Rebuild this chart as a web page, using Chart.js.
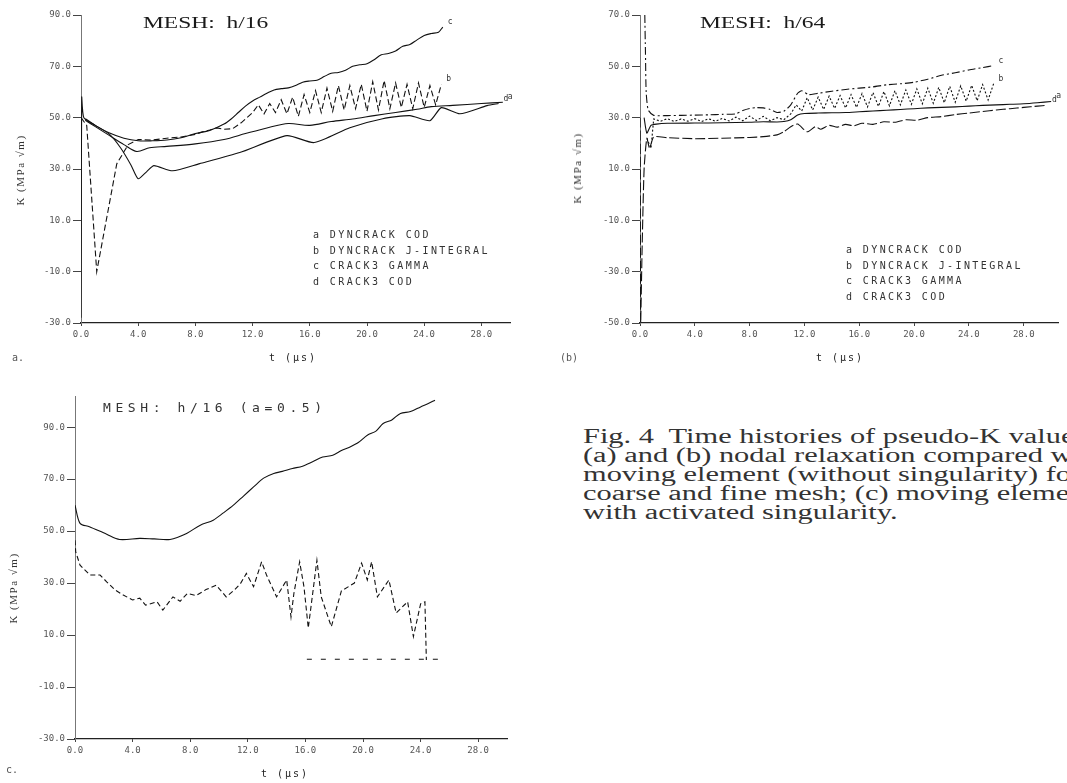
<!DOCTYPE html>
<html>
<head>
<meta charset="utf-8">
<script src="https://cdn.jsdelivr.net/npm/chart.js"></script>
<style>
body { margin: 0; background: #fff; width: 1067px; height: 783px; overflow: hidden; position: relative; }
canvas { position: absolute; }
.t { position: absolute; white-space: nowrap; color: #1a1a1a; transform-origin: 0 50%; line-height: 1; }
.serif { font-family: "Liberation Serif", "DejaVu Serif", serif; }
.mono { font-family: "DejaVu Sans Mono", monospace; }
.leg { font-family: "DejaVu Sans Mono", monospace; font-size: 10px; letter-spacing: 2.4px; color: #333; line-height: 15.5px; position: absolute; white-space: pre; }
.ytitle { position: absolute; white-space: nowrap; font-family: "Liberation Serif", serif; font-size: 11px; color: #333; transform: translate(-50%, -50%) rotate(-90deg); letter-spacing: 1.5px; }
.xtitle { position: absolute; white-space: nowrap; font-family: "DejaVu Sans Mono", monospace; font-size: 10px; color: #222; transform: translate(-50%, -50%); letter-spacing: 2px; }
#caption { position: absolute; left: 583px; top: 427px; font-family: "Liberation Serif", serif; font-size: 20px; line-height: 19px; color: #333; transform: scaleX(1.52); transform-origin: 0 0; white-space: pre; }
</style>
</head>
<body>

<canvas id="chartA" width="530" height="380" style="left:0;top:0"></canvas>
<canvas id="chartB" width="537" height="380" style="left:530px;top:0"></canvas>
<canvas id="chartC" width="530" height="403" style="left:0;top:380px"></canvas>

<div class="t serif" style="left:143px;top:22px;font-size:17px;transform:translateY(-50%) scaleX(1.38)">MESH:&nbsp;&nbsp;h/16</div>
<div class="t serif" style="left:700px;top:22px;font-size:17px;transform:translateY(-50%) scaleX(1.38)">MESH:&nbsp;&nbsp;h/64</div>
<div class="t mono" style="left:103px;top:407px;font-size:13px;letter-spacing:4.6px;color:#333;transform:translateY(-50%)">MESH: h/16 (a=0.5)</div>

<div class="leg" style="left:313px;top:227px">a DYNCRACK COD
b DYNCRACK J-INTEGRAL
c CRACK3 GAMMA
d CRACK3 COD</div>
<div class="leg" style="left:846px;top:242px">a DYNCRACK COD
b DYNCRACK J-INTEGRAL
c CRACK3 GAMMA
d CRACK3 COD</div>

<div class="ytitle" style="left:20px;top:170px">K (MPa √m)</div>
<div class="ytitle" style="left:577px;top:168px">K (MPa √m)</div>
<div class="ytitle" style="left:13px;top:588px">K (MPa √m)</div>

<div class="xtitle" style="left:293px;top:357px">t (μs)</div>
<div class="xtitle" style="left:840px;top:357px">t (μs)</div>
<div class="xtitle" style="left:285px;top:773px">t (μs)</div>

<div class="t mono" style="left:12px;top:358px;font-size:10px;color:#555;transform:translateY(-50%)">a.</div>
<div class="t mono" style="left:560px;top:358px;font-size:10px;color:#555;transform:translateY(-50%)">(b)</div>
<div class="t mono" style="left:6px;top:770px;font-size:10px;color:#555;transform:translateY(-50%)">c.</div>

<div id="caption">Fig. 4  Time histories of pseudo-K values:
(a) and (b) nodal relaxation compared with
moving element (without singularity) for
coarse and fine mesh; (c) moving element
with activated singularity.</div>

<script>
// shared tick values
var tTicks = [0, 4, 8, 12, 16, 20, 24, 28];
var yTicksAC = [-30, -10, 10, 30, 50, 70, 90];
var yTicksB = [-50, -30, -10, 10, 30, 50, 70];

// (a) MESH h/16
var aT_a = [0.3,1,2,3,3.9,4.8,6,8,10,11.5,13,14.5,16,17.5,19,20.5,22,23.5,24.5,26,28,29.5];
var aK_a = [49,46.5,43,39.5,36.8,38.3,38.8,39.8,41.5,43.8,46,47.7,47,48.5,49.5,50.8,52,53.3,54.3,54.8,55.5,56];
var aT_b = [0,0.4,1.1,2.5,3.3,4,5,6,7,8,8.5,9,9.5,10,10.6,11.2,11.6,12,12.4,12.8,13.2,13.6,14,14.4,14.8,15.2,15.6,16,16.4,16.8,17.2,17.6,18,18.4,18.8,19.2,19.6,20,20.4,20.8,21.2,21.6,22,22.4,22.8,23.2,23.6,24,24.4,24.8,25.2];
var aK_b = [50,47,-10,32,39.5,41.5,41.3,42,42.5,43.5,44.5,45.2,46,45.5,45.7,48,50,52,55,51.5,55.5,52,57,51.5,58,50.5,59,52,60.5,52,61.5,52.5,62.5,53,62.5,53.5,63,52.5,64,53,64.5,53.5,63.5,54,63,53.5,63.5,54,62.5,55,63];
var aT_c = [0.3,1,2,3,4,5,6,7,8,9,10,10.5,11,11.5,12,12.5,13,13.5,14,14.5,15,15.5,16,16.5,17,17.5,18,18.5,19,19.5,20,20.5,21,21.5,22,22.5,23,23.5,24,24.5,25,25.3];
var aK_c = [49.6,47,44,42,41,41,41.3,42.2,43.8,45,47.5,49.5,52,54.5,56.5,58,59.5,60.8,61.3,61.6,62.5,63.8,64.3,64.6,66,67.3,67.6,68.5,70,70.6,71,72.6,74.5,75,76,77.8,78.5,80.3,82,82.8,83.3,85.3];
var aT_d = [0,0.02,0.05,0.2,1,2,2.8,3.5,4,4.6,5.1,6.4,8.3,11.1,14.4,16.3,18.8,21.1,23,24.4,25.2,26.5,28.4,29.2];
var aK_d = [-28,7,58,50,47,43.5,38,31.5,26.2,29,31.3,29.3,32.1,36.4,43,40.3,46.1,49.6,50.8,48.8,53.9,51.5,54.7,55.5];

// (b) MESH h/64
var bT_a = [0.3,0.5,0.8,1.2,2,4,6,8,9,10,10.5,11,11.5,12,13,14,15,16,17,18,19,20,21,22,23,24,25,26,27,28,29,30];
var bK_a = [30,24,27,27.5,27.8,27.9,28,28.2,28.4,28.3,28.5,29.2,31,31.6,31.8,31.9,32,32.3,32.6,32.9,33.2,33.5,33.8,34,34.2,34.5,34.8,35,35.2,35.4,35.8,36.3];
var bT_b = [0.5,0.8,1,1.5,2,2.5,3,3.5,4,4.5,5,5.5,6,6.5,7,7.5,8,8.5,9,9.5,10,10.5,11,11.4,11.8,12.2,12.6,13,13.4,13.8,14.2,14.6,15,15.4,15.8,16.2,16.6,17,17.4,17.8,18.2,18.6,19,19.4,19.8,20.2,20.6,21,21.4,21.8,22.2,22.6,23,23.4,23.8,24.2,24.6,25,25.4,25.8];
var bK_b = [22,18,29.5,28.6,29.6,28.5,29.5,28.6,29.6,28.5,29.6,28.6,29.7,28.7,30.2,28.8,30.6,28.9,30.5,28.8,30,29.2,31.5,35,32.6,37.8,33,38,33.2,38.4,33.6,38.6,33.8,39,34,39.4,34.2,39.8,34.4,40.2,34.6,40.5,35,40.8,35.2,41.2,35.4,41.5,35.6,41.8,35.8,42.2,36,42.4,36.4,42.6,36.6,42.9,36.9,43.2];
var bT_c = [0.35,0.4,0.45,0.6,1,2,3,4,5,6,7,7.5,8,8.5,9,9.5,10,10.5,11,11.5,11.8,12.3,12.8,13,14,15,16,17,18,19,20,21,22,23,24,25,25.8];
var bK_c = [70,55,40,33,30.9,30.8,30.9,31,31.1,31.3,31.5,32.8,33.6,33.9,33.8,33.2,32,32.5,35,39.5,40.5,39,39.3,39.5,40.3,41,41.5,42,42.8,43.2,43.8,45,46.5,47.5,48.6,49.5,50.3];
var bT_d = [0,0.02,0.05,0.15,0.3,0.5,0.7,1,2,4,6,8,9,10,10.5,11,11.5,12.2,12.8,13.2,13.8,14.4,15,15.6,16.2,17,17.8,18.6,19.4,20.2,21,22,23,24,25,26,27,28,29,29.7];
var bK_d = [30,10,-50,-22,10,22,18,22.5,22.2,21.8,22,22.3,22.6,23.3,24.5,26.5,27.5,24.5,26.5,25.5,27,26.3,27.4,26.8,27.8,27.4,28.4,28.2,29.2,29,30,30.4,31.2,31.8,32.4,33,33.5,34,34.5,34.8];

// (c) MESH h/16, a=0.5
var cT_top = [0,0.35,1,2.2,3.1,4.5,5.5,6.6,7.75,8.7,9.6,10.3,11,11.7,12.4,13.1,13.8,14.4,15.1,15.8,16.5,17.2,17.9,18.5,19.1,19.7,20.3,20.9,21.4,22,22.6,23.3,24,24.5,25];
var cK_top = [60,53,51.7,48.8,46.8,47.2,47,46.8,49.1,52.3,54.2,57,60,63.5,67,70.4,72.2,73,74.1,75,76.7,78.5,79.2,81,82.4,84.2,86.9,88.5,91.4,92.8,95.3,96,97.8,99,100.4];
var cT_low = [0,0.05,0.35,1.04,1.74,2.2,2.8,3.35,4,4.5,4.9,5.7,6.1,6.8,7.3,7.8,8.4,9.1,9.8,10.5,11.1,11.5,11.9,12.4,12.96,13.3,14,14.7,15,15.2,15.6,15.9,16.2,16.8,17.1,17.8,18.5,19.4,19.9,20.3,20.6,21,21.8,22.3,23.1,23.5,24,24.3,24.4];
var cK_low = [46.5,42,36.9,33.1,33.1,30.5,27.3,25.4,23.5,24.2,21.5,22.8,19.6,24.7,23,26,25.2,27.5,29.2,24.7,27.5,29.9,33.7,28.6,38.2,33.1,24.7,31.2,17,26,38.2,28.6,12.7,38.8,24.7,13.2,27,30,37.7,31.2,38.2,24.7,31.2,18.5,22.8,9.4,22,22.8,0.4];
var cT_floor = [16.1,25.3];
var cK_floor = [0.7,0.7];

function pts(ts, ks) {
	return ts.map(function(t, i) { return {x: t, y: ks[i]}; });
}

function series(ts, ks, dash, tag, tension) {
	return {
		data: pts(ts, ks),
		borderColor: '#111',
		borderWidth: 1.1,
		borderDash: dash,
		pointRadius: 0,
		tension: tension || 0,
		tag: tag
	};
}

// small letters at the end of the curves
var endLabels = {
	id: 'endLabels',
	afterDatasetsDraw: function(chart) {
		var ctx = chart.ctx;
		ctx.save();
		ctx.font = '8px "DejaVu Sans Mono"';
		ctx.fillStyle = '#333';
		chart.data.datasets.forEach(function(ds, i) {
			if (!ds.tag) return;
			var el = chart.getDatasetMeta(i).data;
			var p = el[el.length - 1];
			ctx.fillText(ds.tag, p.x + 5, p.y - 3);
		});
		ctx.restore();
	}
};

function axes(xMax, yMin, yMax, yTicks, yWidth, xHeight) {
	var tickFont = {family: 'DejaVu Sans Mono', size: 9};
	return {
		x: {
			type: 'linear', min: 0, max: xMax,
			afterBuildTicks: function(s) { s.ticks = tTicks.map(function(v) { return {value: v}; }); },
			afterFit: function(s) { s.height = xHeight; },
			grid: {drawOnChartArea: false, tickLength: 3, color: '#444'},
			border: {color: '#222', width: 1.2, dash: [9, 3]},
			ticks: {font: tickFont, color: '#555', padding: 3, maxRotation: 0, autoSkip: false,
				callback: function(v) { return v.toFixed(1); }}
		},
		y: {
			type: 'linear', min: yMin, max: yMax,
			afterBuildTicks: function(s) { s.ticks = yTicks.map(function(v) { return {value: v}; }); },
			afterFit: function(s) { s.width = yWidth; },
			grid: {drawOnChartArea: false, tickLength: 8, color: '#444'},
			border: {color: '#777', width: 1, dash: [2, 7]},
			ticks: {font: tickFont, color: '#555', padding: 2, autoSkip: false,
				callback: function(v) { return v.toFixed(1); }}
		}
	};
}

function opts(pad, scales) {
	return {
		responsive: false,
		animation: false,
		layout: {padding: pad},
		plugins: {legend: {display: false}, tooltip: {enabled: false}},
		scales: scales
	};
}

new Chart(document.getElementById('chartA').getContext('2d'), {
	type: 'line',
	data: {
		datasets: [
			series(aT_c, aK_c, [], 'c', 0.3),
			series(aT_b, aK_b, [6, 3], 'b'),
			series(aT_a, aK_a, [], 'a', 0.3),
			series(aT_d, aK_d, [], 'd', 0.2)
		]
	},
	options: opts({left: 0, right: 20, top: 15, bottom: 0}, axes(30, -30, 90, yTicksAC, 81, 57)),
	plugins: [endLabels]
});

new Chart(document.getElementById('chartB').getContext('2d'), {
	type: 'line',
	data: {
		datasets: [
			series(bT_c, bK_c, [8, 3, 2, 3], 'c', 0.2),
			series(bT_b, bK_b, [2, 2], 'b'),
			series(bT_a, bK_a, [], 'a', 0.2),
			series(bT_d, bK_d, [10, 3], 'd', 0.2)
		]
	},
	options: opts({left: 0, right: 9, top: 15, bottom: 0}, axes(30.5, -50, 70, yTicksB, 110, 57)),
	plugins: [endLabels]
});

new Chart(document.getElementById('chartC').getContext('2d'), {
	type: 'line',
	data: {
		datasets: [
			series(cT_top, cK_top, [], null, 0.3),
			series(cT_low, cK_low, [5, 3], null),
			series(cT_floor, cK_floor, [5, 9], null)
		]
	},
	options: opts({left: 0, right: 23, top: 16, bottom: 0}, axes(30, -30, 102, yTicksAC, 75, 44))
});
</script>
</body>
</html>
